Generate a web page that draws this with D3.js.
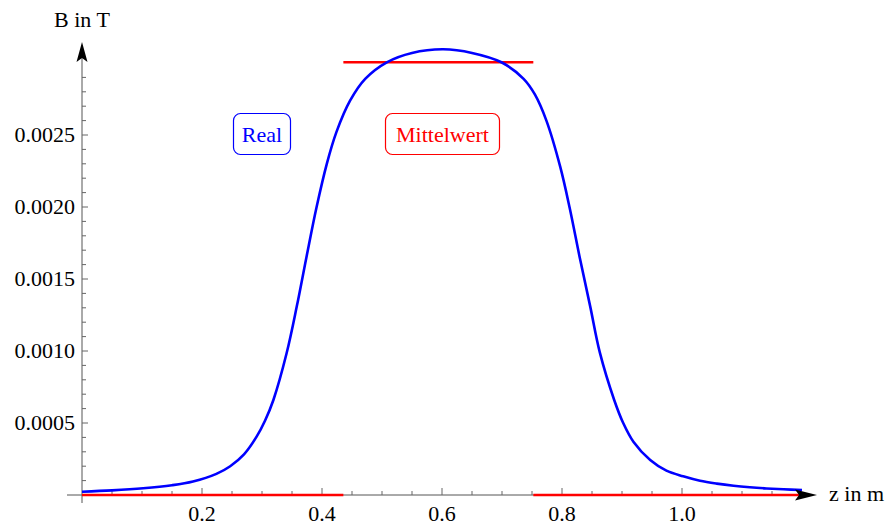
<!doctype html>
<html lang='en'>
<head>
  <meta charset='utf-8'>
  <title>B in T</title>
  <style>
    html, body { margin: 0; padding: 0; background: #fff; }
    text { font-family: 'Liberation Serif', 'Times New Roman', serif; }
  </style>
</head>
<body>
  <script src='https://d3js.org/d3.v7.min.js'></script>
  <script>
    // field along the axis
    const zValues = [0, 0.05, 0.102, 0.15, 0.185, 0.224, 0.247, 0.27, 0.291, 0.305, 0.319, 0.341, 0.358, 0.374,
      0.391, 0.408, 0.424, 0.447, 0.472, 0.508, 0.55, 0.602, 0.65, 0.699, 0.736, 0.755, 0.774, 0.797, 0.813,
      0.83, 0.847, 0.863, 0.887, 0.902, 0.919, 0.947, 0.974, 1.002, 1.03, 1.058, 1.086, 1.113, 1.141, 1.169, 1.2]
    const bReal = [0.000023, 0.000032, 0.0000465, 0.000068, 0.000094, 0.000147, 0.0002, 0.000282, 0.000405,
      0.000516, 0.00066, 0.000984, 0.00131, 0.00165, 0.0020, 0.0023, 0.00252, 0.00274, 0.00289, 0.003005,
      0.00307, 0.003095, 0.00307, 0.003005, 0.00289, 0.00278, 0.0026, 0.00228, 0.00199, 0.00164, 0.00131,
      0.00099, 0.00066, 0.0005, 0.00037, 0.000243, 0.000169, 0.00013, 0.000099, 0.000079, 0.000064, 0.0000535,
      0.0000454, 0.0000395, 0.0000343]

    // mean value (step function)
    const meanStart = [0, 0.4356, 0.7522]
    const meanEnd = [0.4356, 0.7522, 1.2]
    const meanValue = [0, 0.003005, 0]

    const xMajor = [0.2, 0.4, 0.6, 0.8, 1.0]
    const yMajor = [0.0005, 0.0010, 0.0015, 0.0020, 0.0025]

    const width = 888
    const height = 526

    const x = d3.scaleLinear().domain([0, 1.2]).range([82, 802])
    const y = d3.scaleLinear().domain([0, 0.003]).range([495, 63])

    const svg = d3.select('body').append('svg')
      .attr('width', width)
      .attr('height', height)

    // axes
    const axes = svg.append('g')

    axes.append('line')
      .attr('x1', 67).attr('x2', 800)
      .attr('y1', y(0)).attr('y2', y(0))
      .attr('stroke', '#555').attr('stroke-width', 1)

    axes.append('line')
      .attr('x1', x(0)).attr('x2', x(0))
      .attr('y1', 503).attr('y2', 58)
      .attr('stroke', '#555').attr('stroke-width', 1)

    const xMinor = d3.range(1, 24).map(i => i * 0.05)
    axes.selectAll('.xtick')
      .data(xMinor)
      .join('line')
      .attr('class', 'xtick')
      .attr('x1', d => x(d)).attr('x2', d => x(d))
      .attr('y1', y(0))
      .attr('y2', d => xMajor.some(m => Math.abs(m - d) < 1e-6) ? y(0) - 7 : y(0) - 4)
      .attr('stroke', '#666')

    const yMinor = d3.range(1, 30).map(i => i * 0.0001)
    axes.selectAll('.ytick')
      .data(yMinor)
      .join('line')
      .attr('class', 'ytick')
      .attr('y1', d => y(d)).attr('y2', d => y(d))
      .attr('x1', x(0))
      .attr('x2', d => yMajor.some(m => Math.abs(m - d) < 1e-9) ? x(0) + 6 : x(0) + 4)
      .attr('stroke', '#666')

    axes.selectAll('.xlabel')
      .data(xMajor)
      .join('text')
      .attr('class', 'xlabel')
      .attr('x', d => x(d))
      .attr('y', 521)
      .attr('text-anchor', 'middle')
      .style('font-size', '22px')
      .text(d3.format('.1f'))

    axes.selectAll('.ylabel')
      .data(yMajor)
      .join('text')
      .attr('class', 'ylabel')
      .attr('x', 75)
      .attr('y', d => y(d))
      .attr('dy', '0.33em')
      .attr('text-anchor', 'end')
      .style('font-size', '22px')
      .text(d3.format('.4f'))

    // mean value lines
    const meanIdx = d3.range(meanStart.length)
    svg.append('g')
      .selectAll('line')
      .data(meanIdx)
      .join('line')
      .attr('x1', i => x(meanStart[i]))
      .attr('x2', i => x(meanEnd[i]))
      .attr('y1', i => y(meanValue[i]))
      .attr('y2', i => y(meanValue[i]))
      .attr('stroke', '#ff0000')
      .attr('stroke-width', 2.5)

    // real field
    const line = d3.line()
      .x(i => x(zValues[i]))
      .y(i => y(bReal[i]))
      .curve(d3.curveCatmullRom.alpha(0.5))

    svg.append('path')
      .datum(d3.range(zValues.length))
      .attr('d', line)
      .attr('fill', 'none')
      .attr('stroke', '#0000ff')
      .attr('stroke-width', 2.6)

    // arrow heads
    const x0 = x(0)
    const y0 = y(0)
    svg.append('path')
      .attr('d', `M${x0},42 L${x0 + 5.5},62 L${x0},58 L${x0 - 5.5},62 Z`)
      .attr('fill', '#000')
    svg.append('path')
      .attr('d', `M817,${y0} L795,${y0 - 5.5} L799,${y0} L795,${y0 + 5.5} Z`)
      .attr('fill', '#000')

    svg.append('text')
      .attr('x', 829).attr('y', 501)
      .style('font-size', '22px')
      .text('z in m')

    svg.append('text')
      .attr('x', x0).attr('y', 27)
      .attr('text-anchor', 'middle')
      .style('font-size', '22px')
      .text('B in T')

    // legend labels
    const labels = [
      { text: 'Real', color: '#0000ff', x0: 233.5, x1: 290.5 },
      { text: 'Mittelwert', color: '#ff0000', x0: 385.5, x1: 499.5 }
    ]
    const lab = svg.append('g').selectAll('g').data(labels).join('g')
    lab.append('rect')
      .attr('x', d => d.x0).attr('y', 113.5)
      .attr('width', d => d.x1 - d.x0).attr('height', 41)
      .attr('rx', 7).attr('ry', 7)
      .attr('fill', '#fff')
      .attr('stroke', d => d.color)
      .attr('stroke-width', 1.2)
    lab.append('text')
      .attr('x', d => (d.x0 + d.x1) / 2)
      .attr('y', 141.5)
      .attr('text-anchor', 'middle')
      .attr('fill', d => d.color)
      .style('font-size', '22px')
      .text(d => d.text)
  </script>
</body>
</html>
